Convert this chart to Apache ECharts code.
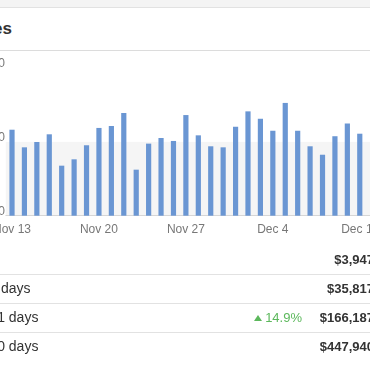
<!DOCTYPE html>
<html>
<head>
<meta charset="utf-8">
<script src="https://cdn.jsdelivr.net/npm/echarts@6/dist/echarts.min.js"></script>
<style>
  html, body { margin: 0; padding: 0; width: 370px; height: 370px; overflow: hidden; background: #fff;
    font-family: 'Liberation Sans', Arial, sans-serif; color: #333; }
  #wrap { position: relative; width: 370px; height: 370px; overflow: hidden; }
  #topstrip { position: absolute; left: 0; top: 0; width: 370px; height: 7px; background: #f4f4f4; border-bottom: 1px solid #e2e2e2; }
  #title { position: absolute; left: -200px; width: 212px; top: 18px; height: 22px; line-height: 22px; text-align: right;
    font-size: 17px; font-weight: bold; color: #333; }
  #sep { position: absolute; left: 0; top: 50px; width: 370px; height: 0; border-top: 1px solid #dcdcdc; }
  #chart { position: absolute; left: -60px; top: 52px; width: 500px; height: 200px; }
  .row { position: absolute; left: 0; width: 370px; height: 29px; }
  .row.line { border-bottom: 1px solid #e2e2e2; }
  .lab { position: absolute; left: -41px; top: 0; line-height: 29px; font-size: 14px; color: #333; white-space: nowrap; }
  .val { position: absolute; right: -4px; top: 0; line-height: 29px; font-size: 13px; font-weight: bold; color: #333; white-space: nowrap; }
  .chg { position: absolute; right: 68px; top: 0; line-height: 29px; font-size: 13px; color: #5cb85c; white-space: nowrap; }
  .tri { display: inline-block; width: 0; height: 0; border-left: 4.5px solid transparent; border-right: 4.5px solid transparent;
    border-bottom: 6px solid #5cb85c; margin-right: 3px; vertical-align: 1px; }
</style>
</head>
<body>
<div id="wrap">
  <div id="topstrip"></div>
  <div id="title"></div>
  <div id="sep"></div>
  <div id="chart"></div>
  <div id="table"></div>
</div>
<script>
// ---- data ----
var chartTitle = 'Sales';
var days = ['Nov 13','Nov 14','Nov 15','Nov 16','Nov 17','Nov 18','Nov 19',
            'Nov 20','Nov 21','Nov 22','Nov 23','Nov 24','Nov 25','Nov 26',
            'Nov 27','Nov 28','Nov 29','Nov 30','Dec 1','Dec 2','Dec 3',
            'Dec 4','Dec 5','Dec 6','Dec 7','Dec 8','Dec 9','Dec 10',
            'Dec 11','Dec 12'];
// Dec 12 lies outside the visible crop; its bar is not visible in the reference
var sales = [5810, 4620, 4980, 5500, 3380, 3810, 4760,
             5930, 6060, 6940, 3110, 4870, 5250, 5050,
             6800, 5430, 4690, 4620, 6010, 7050, 6550,
             5740, 7620, 5740, 4690, 4120, 5370, 6230,
             5540, null];
var yMin = 0, yMax = 10000, yStep = 5000;
var rowLabels = ['Today', 'Last 7 days', 'Last 31 days', 'Last 90 days'];
var rowValues = ['$3,947', '$35,817', '$166,187', '$447,940'];
var rowChanges = ['', '', '14.9%', ''];

// ---- header ----
document.getElementById('title').textContent = chartTitle;

// ---- table ----
var table = document.getElementById('table');
var rowTop = 245, rowH = 29;
rowLabels.forEach(function (lab, i) {
  var r = document.createElement('div');
  r.className = 'row' + (i < rowLabels.length - 1 ? ' line' : '');
  r.style.top = (rowTop + i * rowH) + 'px';
  var l = document.createElement('div'); l.className = 'lab'; l.textContent = lab; r.appendChild(l);
  var v = document.createElement('div'); v.className = 'val'; v.textContent = rowValues[i]; r.appendChild(v);
  if (rowChanges[i]) {
    var c = document.createElement('div'); c.className = 'chg';
    var t = document.createElement('span'); t.className = 'tri'; c.appendChild(t);
    c.appendChild(document.createTextNode(rowChanges[i]));
    r.appendChild(c);
  }
  table.appendChild(r);
});

// ---- chart ----
var chart = echarts.init(document.getElementById('chart'), null, { renderer: 'canvas' });
var catW = 12.42;
chart.setOption({
  animation: false,
  grid: { left: 65.8, top: 15.7, width: catW * days.length, height: 148, containLabel: false },
  xAxis: {
    type: 'category',
    data: days,
    axisLine: { show: true, lineStyle: { color: '#d6d6d6' } },
    axisTick: { show: false },
    axisLabel: { interval: 6, margin: 8, color: '#777', fontSize: 12, fontFamily: 'Liberation Sans, Arial, sans-serif' },
    splitLine: { show: false }
  },
  yAxis: {
    type: 'value',
    min: yMin, max: yMax, interval: yStep,
    axisLine: { show: false },
    axisTick: { show: false },
    splitLine: { show: false },
    splitArea: { show: true, areaStyle: { color: ['#f5f5f5', '#ffffff'] } },
    axisLabel: {
      margin: 1, color: '#777', fontSize: 12, fontFamily: 'Liberation Sans, Arial, sans-serif',
      verticalAlign: 'bottom', lineHeight: 8,
      formatter: function (v) { return v.toLocaleString('en-US'); }
    }
  },
  series: [{
    type: 'bar',
    data: sales,
    barWidth: 5.2,
    itemStyle: { color: '#6a96d3' }
  }]
});
</script>
</body>
</html>
